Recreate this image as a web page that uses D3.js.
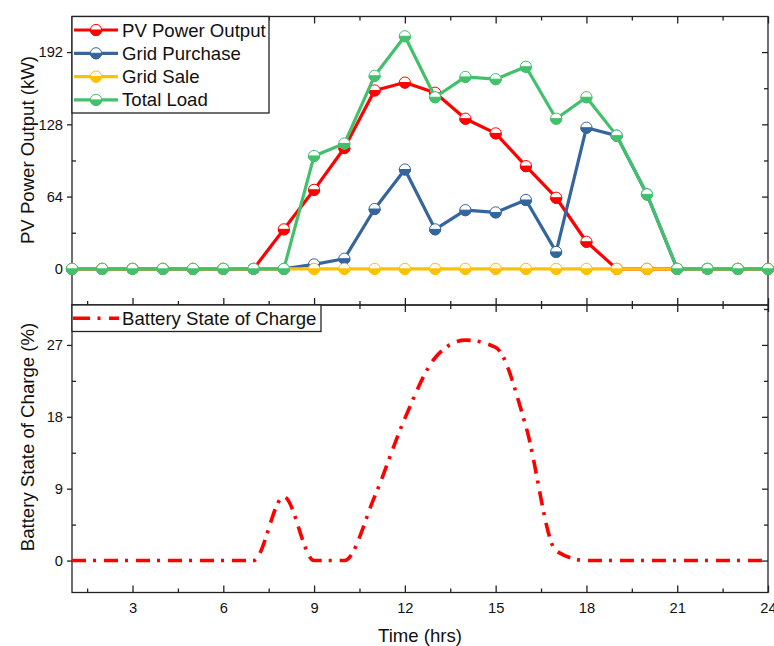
<!DOCTYPE html>
<html><head><meta charset="utf-8">
<script src="https://cdn.jsdelivr.net/npm/d3@7"></script>
<style>
body{margin:0;background:#fff;}
svg{display:block;font-family:"Liberation Sans",Arial,sans-serif;}
</style></head>
<body><svg id="c" width="774" height="646"></svg>
<script>
const hours = d3.range(1, 25);
const pvOutput     = [0,0,0,0,0,0,0,35,70,107,158,165,156,133,120,91,63,24,0,0,0,0,0,0];
const gridPurchase = [0,0,0,0,0,0,0,0,4,9,53,88,35,52,50,61,15,125,118,66,0,0,0,0];
const gridSale     = [0,0,0,0,0,0,0,0,0,0,0,0,0,0,0,0,0,0,0,0,0,0,0,0];
const totalLoad    = [0,0,0,0,0,0,0,0,100,111,171,206,152,170,168,179,133,152,118,66,0,0,0,0];
const batterySOC   = [0,0,0,0,0,0,0,8,0,0,8,17.8,25.4,27.6,26.7,16.8,1.2,0,0,0,0,0,0,0];
const xTicks = [3,6,9,12,15,18,21,24];
const topYTicks = [0,64,128,192];
const botYTicks = [0,9,18,27];

const seriesNames = ["PV Power Output","Grid Purchase","Grid Sale","Total Load"];
const seriesColors = ["#ff0000","#35659d","#ffc000","#42c06c"];
const seriesData = [pvOutput, gridPurchase, gridSale, totalLoad];

const svg = d3.select("#c");
const L = 72, R = 768, T1 = 16.5, B1 = 305, B2 = 592.5;
const x = d3.scaleLinear().domain([1,24]).range([L,R]);
const y1 = d3.scaleLinear().domain([-32,223.5]).range([B1,T1]);
const y2 = d3.scaleLinear().domain([-4,32]).range([B2,B1]);
const axisColor = "#222";
const xMinor = d3.range(1.5, 24, 3);

function styleAxis(g){
  g.select(".domain").remove();
  g.selectAll("line").attr("stroke",axisColor).attr("stroke-width",1.3);
  g.selectAll("text").attr("fill","#111").attr("font-size","14.7px").attr("font-family","'Liberation Sans',Arial,sans-serif");
}
function panelAxes(y, yMaj, yMin, withXLabels, top, bottom){
  svg.append("g").attr("transform",`translate(0,${bottom})`)
    .call(d3.axisBottom(x).tickValues(xTicks).tickSizeInner(-7).tickSizeOuter(0).tickPadding(withXLabels?10:0).tickFormat(withXLabels?d3.format("d"):()=>""))
    .call(styleAxis);
  svg.append("g").attr("transform",`translate(0,${bottom})`)
    .call(d3.axisBottom(x).tickValues(xMinor).tickSizeInner(-4).tickSizeOuter(0).tickFormat(()=>""))
    .call(styleAxis);
  svg.append("g").attr("transform",`translate(0,${top})`)
    .call(d3.axisTop(x).tickValues(xTicks).tickSizeInner(-7).tickSizeOuter(0).tickFormat(()=>""))
    .call(styleAxis);
  svg.append("g").attr("transform",`translate(0,${top})`)
    .call(d3.axisTop(x).tickValues(xMinor).tickSizeInner(-4).tickSizeOuter(0).tickFormat(()=>""))
    .call(styleAxis);
  svg.append("g").attr("transform",`translate(${L},0)`)
    .call(d3.axisLeft(y).tickValues(yMaj).tickSizeInner(5).tickSizeOuter(0).tickPadding(4).tickFormat(d3.format("d")))
    .call(styleAxis);
  svg.append("g").attr("transform",`translate(${L},0)`)
    .call(d3.axisLeft(y).tickValues(yMin).tickSizeInner(-4).tickSizeOuter(0).tickFormat(()=>""))
    .call(styleAxis);
  svg.append("g").attr("transform",`translate(${R},0)`)
    .call(d3.axisRight(y).tickValues(yMaj).tickSizeInner(-6).tickSizeOuter(0).tickFormat(()=>""))
    .call(styleAxis);
  svg.append("g").attr("transform",`translate(${R},0)`)
    .call(d3.axisRight(y).tickValues(yMin).tickSizeInner(-4).tickSizeOuter(0).tickFormat(()=>""))
    .call(styleAxis);
  svg.append("rect").attr("x",L).attr("y",top).attr("width",R-L).attr("height",bottom-top)
    .attr("fill","none").attr("stroke",axisColor).attr("stroke-width",1.3);
}

panelAxes(y1, topYTicks, [32,96,160], false, T1, B1);

function halfMarker(g, cx, cy, color){
  const r = 5.6;
  g.append("circle").attr("cx",cx).attr("cy",cy).attr("r",r).attr("fill","#fff").attr("stroke",color).attr("stroke-width",1);
  g.append("path").attr("d",`M${cx-r},${cy} A${r},${r} 0 0 0 ${cx+r},${cy} Z`).attr("fill",color).attr("stroke",color).attr("stroke-width",1);
}

const line1 = d3.line().x((d,i)=>x(hours[i])).y(d=>y1(d));
seriesData.forEach((vals,si)=>{
  const g = svg.append("g");
  g.append("path").datum(vals).attr("d",line1).attr("fill","none")
    .attr("stroke",seriesColors[si]).attr("stroke-width",3.2).attr("stroke-linejoin","round");
  vals.forEach((v,i)=>halfMarker(g, x(hours[i]), y1(v), seriesColors[si]));
});

const lg = svg.append("g");
lg.append("rect").attr("x",L).attr("y",T1).attr("width",269-L).attr("height",113-T1)
  .attr("fill","#fff").attr("stroke",axisColor).attr("stroke-width",1.3);
seriesNames.forEach((n,i)=>{
  const yy = 30 + i*23.3;
  lg.append("line").attr("x1",74).attr("x2",118).attr("y1",yy).attr("y2",yy)
    .attr("stroke",seriesColors[i]).attr("stroke-width",3.2);
  halfMarker(lg, 96, yy, seriesColors[i]);
  lg.append("text").attr("x",122).attr("y",yy+6.5).attr("font-size","18.6px").attr("fill","#111").text(n);
});

panelAxes(y2, botYTicks, [4.5,13.5,22.5,31.5], true, B1, B2);

const line2 = d3.line().x((d,i)=>x(hours[i])).y(d=>y2(d)).curve(d3.curveMonotoneX);
svg.append("path").datum(batterySOC).attr("d",line2).attr("fill","none")
  .attr("stroke","#ff0000").attr("stroke-width",3.6).attr("stroke-dasharray","14 7 3 8");

const lg2 = svg.append("g");
lg2.append("rect").attr("x",L).attr("y",B1).attr("width",321-L).attr("height",331.5-B1)
  .attr("fill","#fff").attr("stroke",axisColor).attr("stroke-width",1.3);
lg2.append("line").attr("x1",73).attr("x2",119).attr("y1",318.3).attr("y2",318.3)
  .attr("stroke","#ff0000").attr("stroke-width",3.6).attr("stroke-dasharray","17 7.5 3 8.5");
lg2.append("text").attr("x",122).attr("y",324.8).attr("font-size","18.6px").attr("fill","#111").text("Battery State of Charge");

svg.append("text").attr("transform","translate(34,150) rotate(-90)").attr("text-anchor","middle")
  .attr("font-size","18.6px").attr("fill","#111").text("PV Power Output (kW)");
svg.append("text").attr("transform","translate(34,437) rotate(-90)").attr("text-anchor","middle")
  .attr("font-size","18.6px").attr("fill","#111").text("Battery State of Charge (%)");
svg.append("text").attr("x",420).attr("y",642).attr("text-anchor","middle")
  .attr("font-size","18.6px").attr("fill","#111").text("Time (hrs)");
</script></body></html>
